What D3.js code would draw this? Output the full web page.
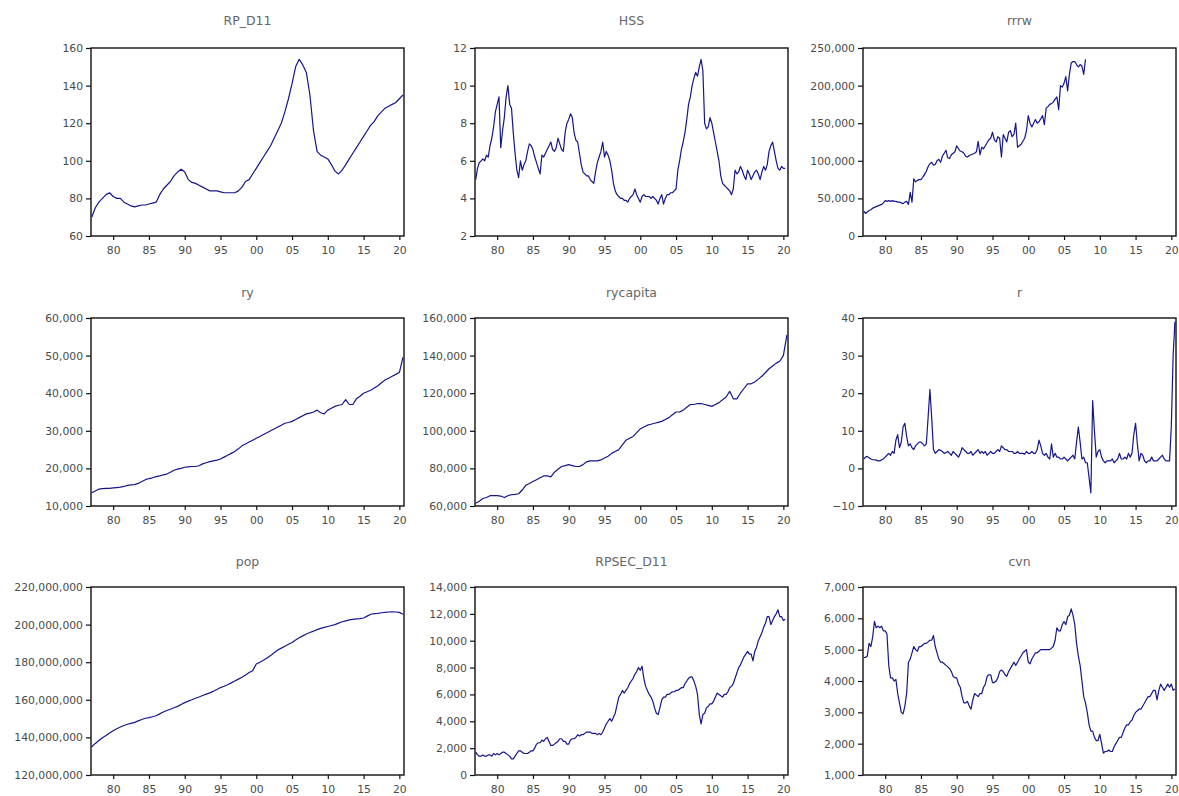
<!DOCTYPE html>
<html lang="en">
<head>
<meta charset="utf-8">
<title>EViews style series panels</title>
<script src="https://d3js.org/d3.v7.min.js"></script>
<style>
  body { margin: 0; background: #fff; }
  svg text { font-family: "DejaVu Sans", Verdana, sans-serif; }
  .title { font-size: 12.5px; fill: #666; }
  .tick text { font-size: 10.8px; fill: #4a4a4a; }
  .frame { fill: none; stroke: #111; stroke-width: 1.4; }
  .series { fill: none; stroke: #16168a; stroke-width: 1.2; stroke-linejoin: round; }
</style>
</head>
<body>
<script>
// x axis: years shown as two digits
const yearTicks = [1980, 1985, 1990, 1995, 2000, 2005, 2010, 2015, 2020];

// semi-annual, from 1977H1
const rpD11 = [70, 75, 78, 80, 82, 83, 81, 80, 80, 78, 77, 76, 75.5, 76, 76.5, 76.5, 77, 77.5, 78, 82,
  85, 87, 89, 92, 94, 95.5, 94, 90, 88.5, 88, 87, 86, 85, 84, 84, 84, 83.5, 83, 83, 83,
  83, 84, 86, 89, 90, 93, 96, 99, 102, 105, 108, 112, 116, 120, 126, 133, 141, 150, 154, 151,
  147, 135, 116, 105, 103, 102, 101, 98, 94.5, 93, 95, 98, 101, 104, 107, 110, 113, 116, 119, 121,
  124, 126, 128, 129, 130, 131, 133, 135];

// quarterly, from 1977Q1
const hss = [5.0, 5.6, 5.9, 6.0, 6.1, 6.0, 6.3, 6.2, 6.8, 7.2, 7.8, 8.6, 9.0, 9.4, 6.7, 7.6,
  8.3, 9.4, 10.0, 9.0, 8.8, 7.5, 6.4, 5.5, 5.1, 6.0, 5.5, 5.8, 6.0, 6.5, 6.9, 6.8,
  6.6, 6.2, 5.9, 5.6, 5.3, 6.3, 6.2, 6.4, 6.6, 6.8, 7.0, 6.6, 6.5, 6.7, 7.2, 6.9,
  6.6, 6.5, 7.5, 8.0, 8.2, 8.5, 8.3, 7.5, 7.1, 7.0, 6.4, 5.8, 5.4, 5.3, 5.2, 5.2,
  5.0, 4.9, 4.8, 5.4, 5.9, 6.2, 6.5, 7.0, 6.2, 6.5, 6.3, 6.0, 5.5, 4.8, 4.4, 4.2,
  4.1, 4.0, 4.0, 3.9, 3.9, 3.8, 4.0, 4.1, 4.2, 4.5, 4.2, 4.0, 3.8, 4.1, 4.2, 4.1,
  4.1, 4.1, 4.0, 4.1, 4.0, 3.9, 3.7, 4.0, 4.2, 3.7, 4.0, 4.2, 4.2, 4.3, 4.3, 4.4,
  4.5, 5.5, 6.0, 6.6, 7.0, 7.5, 8.2, 9.0, 9.4, 10.0, 10.4, 10.7, 10.5, 11.0, 11.4, 10.8,
  8.0, 7.7, 7.8, 8.3, 8.0, 7.5, 7.0, 6.5, 6.0, 5.2, 4.8, 4.7, 4.6, 4.5, 4.4, 4.2,
  4.5, 5.5, 5.3, 5.4, 5.7, 5.5, 5.2, 5.0, 5.5, 5.3, 5.0, 5.2, 5.4, 5.5, 5.3, 5.0,
  5.4, 5.7, 5.5, 5.8, 6.5, 6.8, 7.0, 6.5, 6.0, 5.6, 5.5, 5.7, 5.6, 5.6];

// quarterly, thousands, 1977Q1 to 2008Q1
const rrrw = [33, 30, 32, 34, 35, 37, 38, 39, 40, 41, 42, 44, 47, 46, 47, 46,
  47, 46, 46, 45, 45, 44, 43, 45, 46, 42, 58, 45, 76, 72, 74, 75,
  75, 78, 82, 86, 92, 96, 98, 94, 95, 100, 102, 98, 106, 110, 114, 104,
  103, 108, 110, 112, 120, 116, 113, 112, 110, 106, 105, 107, 108, 109, 110, 112,
  126, 108, 118, 116, 120, 124, 128, 130, 138, 128, 125, 132, 130, 105, 135, 130,
  125, 138, 140, 132, 135, 150, 118, 120, 122, 126, 130, 140, 160, 150, 145, 150,
  155, 150, 152, 156, 160, 148, 170, 172, 175, 176, 178, 182, 185, 168, 200, 198,
  203, 212, 193, 215, 230, 232, 232, 228, 225, 228, 226, 215, 235];

// semi-annual, thousands
const ry = [13.5, 14.0, 14.5, 14.6, 14.7, 14.7, 14.8, 14.9, 15.0, 15.2,
  15.5, 15.6, 15.7, 16.0, 16.5, 17.0, 17.3, 17.5, 17.8, 18.0,
  18.3, 18.5, 19.0, 19.5, 19.8, 20.0, 20.3, 20.4, 20.5, 20.5,
  20.7, 21.2, 21.5, 21.8, 22.0, 22.2, 22.5, 23.0, 23.5, 24.0,
  24.5, 25.2, 26.0, 26.5, 27.0, 27.5, 28.0, 28.5, 29.0, 29.5,
  30.0, 30.5, 31.0, 31.5, 32.0, 32.2, 32.5, 33.0, 33.5, 34.0,
  34.5, 34.7, 35.0, 35.5, 34.8, 34.5, 35.5, 36.0, 36.5, 36.8,
  37.0, 38.3, 37.0, 37.0, 38.5, 39.2, 40.0, 40.4, 40.8, 41.4,
  42.0, 42.8, 43.5, 44.0, 44.5, 45.0, 45.5, 49.5];

// semi-annual, thousands
const rycapita = [61.5, 62.5, 64, 64.5, 65.5, 65.5, 65.5, 65.3, 64.5, 65.5,
  66, 66.2, 66.5, 68.5, 71, 72, 73, 74, 75, 76,
  76, 75.5, 78, 79.5, 81, 81.5, 82, 81.5, 81, 81,
  82, 83.5, 84, 84, 84, 84.5, 85.5, 86.5, 88, 89,
  90, 92.5, 95, 96, 97, 99, 101, 102, 103, 103.5,
  104, 104.5, 105, 106, 107, 108.5, 110, 110, 111, 112.5,
  114, 114, 114.5, 114.5, 114, 113.5, 113, 114, 115, 116.5,
  118, 121, 117, 117, 120, 122.5, 125, 125, 126, 127.5,
  129, 131, 133, 134.5, 136, 137, 140, 151];

// quarterly, 1977Q1 to 2020Q3
const r = [2.5, 3.0, 3.2, 2.8, 2.5, 2.3, 2.3, 2.2, 2.0, 2.0, 2.3, 2.5, 3.0, 3.5, 4.0, 3.5,
  4.5, 4.0, 7.5, 9.0, 5.5, 7.0, 11.0, 12.0, 8.5, 6.0, 6.5, 5.5, 5.0, 6.0, 6.5, 7.0,
  7.0, 6.5, 6.0, 6.5, 13.5, 21.0, 13.5, 5.0, 4.0, 4.5, 5.0, 4.8, 4.5, 4.0, 4.2, 4.5,
  4.0, 3.5, 4.5, 4.0, 3.5, 3.0, 4.0, 5.5, 5.0, 4.5, 4.0, 4.0, 4.5, 3.5, 4.0, 4.5,
  5.0, 4.0, 4.5, 4.0, 4.5, 3.5, 4.0, 4.5, 4.0, 4.0, 4.5, 5.0, 4.5, 6.0, 5.5, 5.0,
  5.0, 4.5, 4.5, 4.5, 4.0, 4.0, 4.5, 4.0, 4.0, 4.0, 3.8, 4.5, 4.0, 4.0, 4.5, 4.0,
  4.0, 5.0, 7.5, 6.0, 4.0, 3.5, 4.0, 3.0, 2.5, 6.5, 3.0, 4.0, 3.0, 3.0, 2.5, 2.5,
  3.0, 2.5, 2.0, 2.5, 3.0, 3.5, 2.5, 7.0, 11.0, 7.0, 2.5, 3.0, 1.5, 1.5, -2.5, -6.5,
  18.0, 10.0, 3.0, 4.5, 5.0, 3.0, 2.0, 1.5, 2.0, 2.0, 2.0, 2.5, 1.5, 2.0, 2.5, 4.0,
  2.5, 2.5, 3.0, 2.5, 4.0, 3.0, 4.0, 9.0, 12.0, 6.5, 2.0, 4.0, 3.5, 2.0, 1.5, 2.0,
  2.0, 3.0, 2.0, 2.0, 2.0, 2.5, 3.0, 3.5, 2.5, 2.0, 2.0, 2.0, 11.5, 30.0, 39.0];

// semi-annual, millions
const pop = [135.0, 136.8, 138.3, 139.8, 141.0, 142.3, 143.5, 144.6, 145.5, 146.3,
  147.0, 147.5, 148.0, 148.8, 149.5, 150.2, 150.5, 151.0, 151.5, 152.5,
  153.5, 154.3, 155.0, 155.8, 156.5, 157.5, 158.5, 159.3, 160.0, 160.8,
  161.5, 162.3, 163.0, 163.7, 164.5, 165.5, 166.5, 167.2, 168.0, 169.0,
  170.0, 171.0, 172.0, 173.2, 174.5, 175.5, 179.0, 180.0, 181.0, 182.2,
  183.5, 185.0, 186.5, 187.5, 188.5, 189.5, 190.5, 191.8, 193.0, 194.0,
  195.0, 195.8, 196.5, 197.3, 198.0, 198.5, 199.0, 199.5, 200.0, 200.8,
  201.5, 202.0, 202.5, 202.8, 203.0, 203.2, 203.5, 204.5, 205.5, 205.8,
  206.0, 206.3, 206.5, 206.7, 206.8, 206.7, 206.5, 205.5];

// quarterly, thousands
const rpsecD11 = [1.7, 1.5, 1.4, 1.4, 1.5, 1.4, 1.4, 1.5, 1.5, 1.4, 1.6, 1.5, 1.6, 1.5, 1.6, 1.7,
  1.7, 1.6, 1.5, 1.4, 1.2, 1.2, 1.4, 1.6, 1.8, 1.8, 1.7, 1.6, 1.6, 1.6, 1.7, 1.8,
  1.8, 2.0, 2.3, 2.4, 2.4, 2.6, 2.5, 2.7, 2.8, 2.5, 2.2, 2.2, 2.3, 2.4, 2.5, 2.7,
  2.7, 2.5, 2.5, 2.3, 2.3, 2.6, 2.7, 2.7, 2.8, 3.0, 2.9, 3.0, 3.0, 3.1, 3.2, 3.2,
  3.2, 3.1, 3.1, 3.1, 3.0, 3.1, 3.0, 3.2, 3.5, 3.8, 4.0, 4.2, 4.0, 4.3, 4.6, 5.2,
  5.8, 6.0, 6.3, 6.1, 6.3, 6.5, 6.8, 7.0, 7.2, 7.5, 7.7, 8.0, 7.8, 8.1, 7.2, 6.6,
  6.3, 6.0, 5.8, 5.5, 5.0, 4.6, 4.5, 5.0, 5.6, 5.8, 5.8, 6.0, 6.0, 6.1, 6.2, 6.2,
  6.3, 6.3, 6.4, 6.5, 6.5, 6.8, 7.0, 7.2, 7.3, 7.3, 7.0, 6.6, 6.0, 4.5, 3.8, 4.5,
  4.6, 5.0, 5.1, 5.3, 5.3, 5.5, 5.8, 6.1, 6.0, 5.9, 5.8, 6.0, 6.0, 6.2, 6.5, 6.6,
  6.8, 7.2, 7.6, 8.0, 8.2, 8.5, 8.8, 9.0, 9.2, 9.0, 9.0, 8.5, 9.2, 9.5, 10.0, 10.3,
  10.6, 11.0, 11.3, 11.8, 11.8, 11.2, 11.5, 11.8, 12.0, 12.3, 11.8, 11.8, 11.5, 11.6];

// quarterly, thousands
const cvn = [4.75, 4.75, 4.8, 5.2, 5.1, 5.4, 5.9, 5.7, 5.75, 5.7, 5.75, 5.6, 5.6, 5.5, 4.5, 4.1,
  4.1, 4.0, 4.05, 3.6, 3.3, 3.0, 2.95, 3.2, 3.6, 4.6, 4.7, 4.9, 5.1, 5.0, 4.95, 5.1,
  5.1, 5.15, 5.2, 5.2, 5.25, 5.3, 5.3, 5.45, 5.1, 4.9, 4.7, 4.6, 4.6, 4.55, 4.5, 4.45,
  4.4, 4.3, 4.15, 4.1, 4.1, 3.9, 3.8, 3.5, 3.3, 3.3, 3.35, 3.2, 3.1, 3.4, 3.6, 3.55,
  3.5, 3.6, 3.6, 3.8, 3.9, 4.15, 4.2, 4.2, 3.95, 3.95, 4.0, 4.1, 4.3, 4.35, 4.3, 4.2,
  4.15, 4.3, 4.4, 4.5, 4.6, 4.5, 4.6, 4.7, 4.8, 4.9, 4.95, 5.0, 4.6, 4.55, 4.7, 4.8,
  4.9, 4.9, 4.95, 5.0, 5.0, 5.0, 5.0, 5.0, 5.0, 5.05, 5.1, 5.3, 5.7, 5.6, 5.6, 5.8,
  5.9, 5.8, 6.05, 6.1, 6.3, 6.1, 5.8, 5.2, 4.8, 4.5, 4.0, 3.5, 3.3, 3.0, 2.6, 2.4,
  2.4, 2.2, 2.1, 2.1, 2.3, 2.0, 1.7, 1.75, 1.75, 1.8, 1.75, 1.75, 1.9, 2.0, 2.1, 2.2,
  2.2, 2.35, 2.5, 2.6, 2.6, 2.7, 2.75, 2.9, 3.0, 3.05, 3.1, 3.1, 3.2, 3.3, 3.4, 3.5,
  3.5, 3.6, 3.7, 3.7, 3.4, 3.7, 3.9, 3.8, 3.7, 3.8, 3.9, 3.8, 3.9, 3.7, 3.75];

const panels = [
  { title: "RP_D11", data: rpD11, step: 0.5, mult: 1, yTicks: d3.range(60, 161, 20) },
  { title: "HSS", data: hss, step: 0.25, mult: 1, yTicks: d3.range(2, 13, 2) },
  { title: "rrrw", data: rrrw, step: 0.25, mult: 1000, yTicks: d3.range(0, 250001, 50000) },
  { title: "ry", data: ry, step: 0.5, mult: 1000, yTicks: d3.range(10000, 60001, 10000) },
  { title: "rycapita", data: rycapita, step: 0.5, mult: 1000, yTicks: d3.range(60000, 160001, 20000) },
  { title: "r", data: r, step: 0.25, mult: 1, yTicks: d3.range(-10, 41, 10) },
  { title: "pop", data: pop, step: 0.5, mult: 1e6, yTicks: d3.range(120e6, 220e6 + 1, 20e6) },
  { title: "RPSEC_D11", data: rpsecD11, step: 0.25, mult: 1000, yTicks: d3.range(0, 14001, 2000) },
  { title: "cvn", data: cvn, step: 0.25, mult: 1000, yTicks: d3.range(1000, 7001, 1000) }
];

const W = 1179, H = 796;
const colLeft = [91, 475, 863];
const plotW = 313;
const rowTop = [48, 318, 587];
const plotH = 188;

const svg = d3.select("body").append("svg")
  .attr("width", W)
  .attr("height", H);

const fmt = d3.format(",");

panels.forEach(function(p, i) {
  const col = i % 3, row = Math.floor(i / 3);
  const g = svg.append("g")
    .attr("transform", "translate(" + colLeft[col] + "," + rowTop[row] + ")");

  const x = d3.scaleLinear().domain([1976.9, 2020.65]).range([0, plotW]);
  const y = d3.scaleLinear()
    .domain([p.yTicks[0], p.yTicks[p.yTicks.length - 1]])
    .range([plotH, 0]);

  // title
  g.append("text")
    .attr("class", "title")
    .attr("x", plotW / 2)
    .attr("y", row === 0 ? -23 : -21)
    .attr("text-anchor", "middle")
    .text(p.title);

  // axes
  const xAxis = d3.axisBottom(x)
    .tickValues(yearTicks)
    .tickSize(4)
    .tickPadding(6)
    .tickFormat(d => String(d % 100).padStart(2, "0"));
  const yAxis = d3.axisLeft(y)
    .tickValues(p.yTicks)
    .tickSize(5)
    .tickPadding(3)
    .tickFormat(fmt);

  g.append("g").attr("transform", "translate(0," + plotH + ")").call(xAxis);
  g.append("g").call(yAxis);
  g.selectAll(".domain").remove();
  g.selectAll(".tick line").attr("stroke", "#111").attr("stroke-width", 1.2);

  // series line
  const line = d3.line()
    .x((d, k) => x(1977 + k * p.step))
    .y(d => y(d * p.mult));
  g.append("path")
    .datum(p.data)
    .attr("class", "series")
    .attr("d", line);

  // frame
  g.append("rect")
    .attr("class", "frame")
    .attr("width", plotW)
    .attr("height", plotH);
});
</script>
</body>
</html>
